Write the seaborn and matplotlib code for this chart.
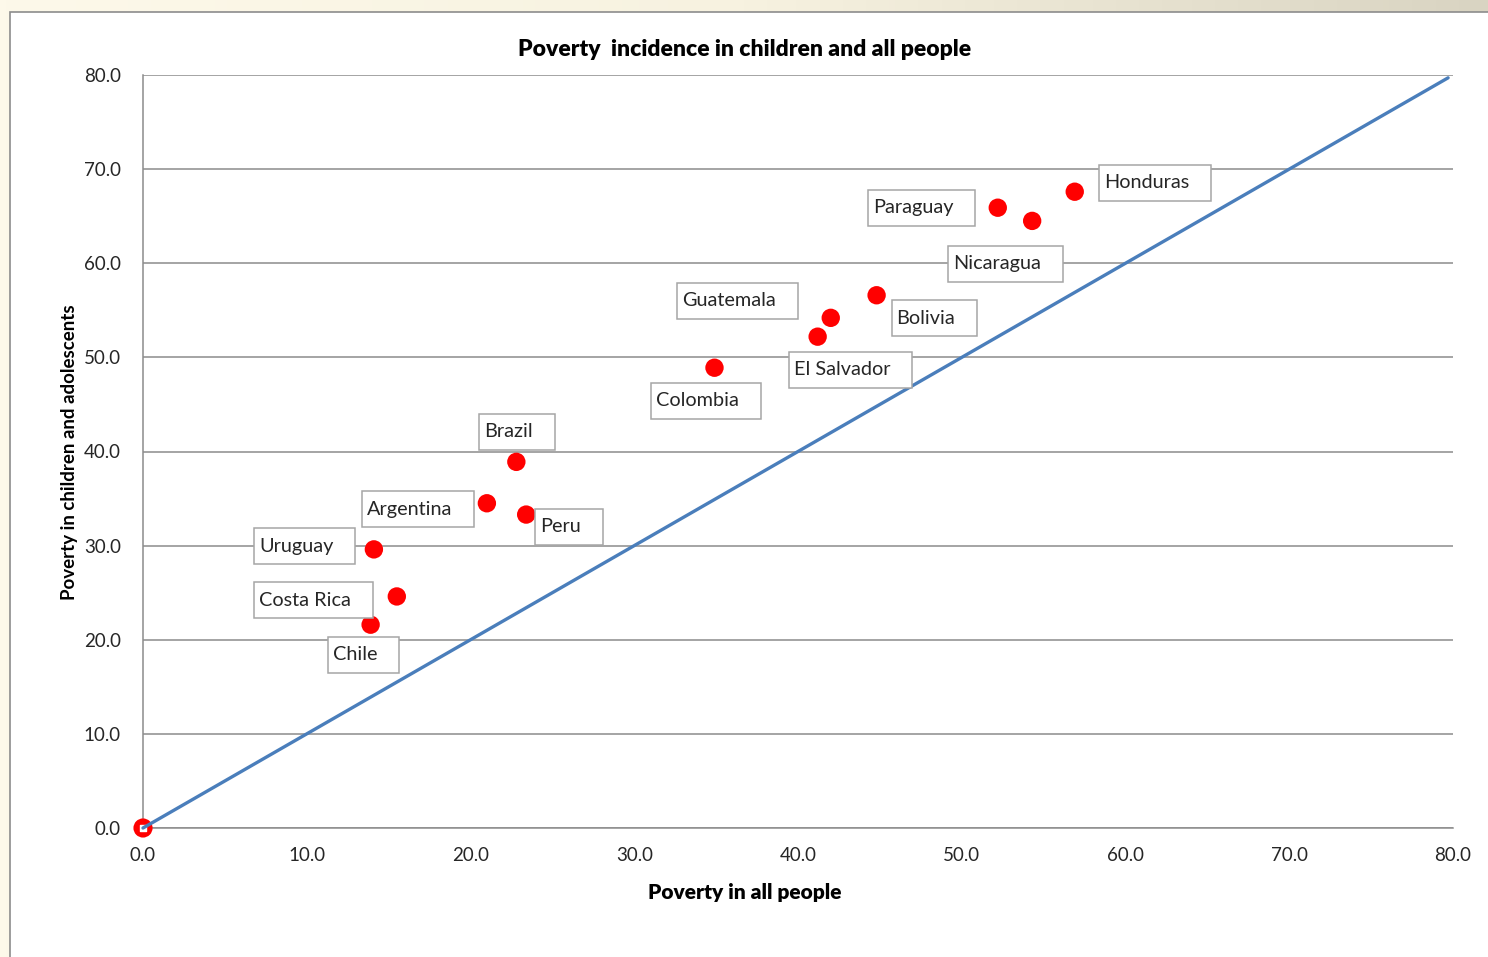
import numpy as np
import pandas as pd
import matplotlib
matplotlib.use("Agg")
import matplotlib.pyplot as plt
from matplotlib.patches import Rectangle
from matplotlib.transforms import IdentityTransform
import seaborn as sns

# Poverty incidence (%) by country
countries = ["Honduras", "Paraguay", "Nicaragua", "Bolivia", "Guatemala",
             "El Salvador", "Colombia", "Brazil", "Argentina", "Peru",
             "Uruguay", "Costa Rica", "Chile"]
poverty_all = [56.9, 52.2, 54.3, 44.8, 42.0, 41.2, 34.9, 22.8, 21.0, 23.4,
               14.1, 15.5, 13.9]
poverty_children = [67.6, 65.9, 64.5, 56.6, 54.2, 52.2, 48.9, 38.9, 34.5,
                    33.3, 29.6, 24.6, 21.6]
origin_x = [0.0]
origin_y = [0.0]
equality_x = [0.0, 79.7]
equality_y = [0.0, 79.7]
ticks = [0, 10, 20, 30, 40, 50, 60, 70, 80]

df = pd.DataFrame({"country": countries, "all": poverty_all,
                   "children": poverty_children})

# label placement: offset of the label text (pixels) from its point
label_offsets = {
    "Honduras": (29, 9), "Paraguay": (-125, 0), "Nicaragua": (-79, -43),
    "Bolivia": (20, -23), "Guatemala": (-149, 17), "El Salvador": (-24, -33),
    "Colombia": (-58, -33), "Brazil": (-32, 30), "Argentina": (-120, -6),
    "Peru": (14, -12), "Uruguay": (-115, 3), "Costa Rica": (-138, -4),
    "Chile": (-38, -30),
}

sns.set_theme(style="white")
plt.rcParams["font.family"] = ["Lato", "DejaVu Sans"]

W, H = 1488, 957
fig = plt.figure(figsize=(W / 100, H / 100), dpi=100)

# slide-like background with a light gradient
bg = fig.add_axes([0, 0, 1, 1], zorder=-10)
grad = np.linspace(0, 1, 256)[None, :]
bg.imshow(grad, aspect="auto", extent=[0, 1, 0, 1],
          cmap=matplotlib.colors.LinearSegmentedColormap.from_list(
              "bgc", ["#FDF9EA", "#F7F2E0", "#D9D4C2"]))
bg.set_xlim(0, 1)
bg.set_ylim(0, 1)
bg.axis("off")
# chart area
bg.add_patch(Rectangle((10 / W, -0.01), 1.0, 1 - 12 / H + 0.01,
                       facecolor="white", edgecolor="#8C8C8C", lw=1.2,
                       transform=bg.transAxes))

def fx(px):
    return px / W

def fy(py):
    return 1 - py / H

ax = fig.add_axes([fx(143), fy(828), fx(1453) - fx(143), fy(75) - fy(828)])
ax.set_facecolor("none")

sns.lineplot(x=equality_x, y=equality_y, ax=ax, color="#4A7EBB", lw=2.4,
             zorder=5, clip_on=False)
sns.scatterplot(data=df, x="all", y="children", ax=ax, color="#FF0000",
                s=175, edgecolor="none", zorder=4, clip_on=False)
sns.scatterplot(x=origin_x, y=origin_y, ax=ax, color="#FF0000", s=190,
                edgecolor="none", zorder=4, clip_on=False)
ax.scatter(origin_x, origin_y, marker="s", s=16, color="white", zorder=4.5,
           clip_on=False)

ax.set_xlim(0, 80)
ax.set_ylim(0, 80)
ax.set_xticks(ticks)
ax.set_yticks(ticks)
ax.set_xticklabels([f"{t:.1f}" for t in ticks])
ax.set_yticklabels([f"{t:.1f}" for t in ticks])
ax.tick_params(axis="both", labelsize=13.5, colors="#404040", labelcolor="#262626")
ax.tick_params(axis="y", length=5, width=1, color="#8C8C8C", pad=11)
ax.tick_params(axis="x", length=0, pad=14)
ax.yaxis.grid(True, color="#8C8C8C", lw=1.1)
ax.xaxis.grid(False)
for side in ["top", "right"]:
    ax.spines[side].set_visible(False)
for side in ["left", "bottom"]:
    ax.spines[side].set_color("#8C8C8C")
    ax.spines[side].set_linewidth(1.1)
ax.set_xlabel("")
ax.set_ylabel("")

fig.text(fx(745), fy(49), "Poverty  incidence in children and all people",
         ha="center", va="center", fontsize=16.5, fontweight="heavy",
         color="#000000")
fig.text(fx(745), fy(893), "Poverty in all people", ha="center",
         va="center", fontsize=15, fontweight="heavy", color="#000000")
fig.text(fx(70), fy(452), "Poverty in children and adolescents",
         ha="center", va="center", rotation=90, fontsize=13.5,
         fontweight="bold", color="#000000")

texts = []
for c, x, y in zip(countries, poverty_all, poverty_children):
    dx, dy = label_offsets[c]
    t = ax.annotate(c, (x, y), xytext=(dx, dy), textcoords="offset pixels",
                    ha="left", va="center", fontsize=14.3, color="#262626",
                    zorder=7, annotation_clip=False)
    texts.append(t)

fig.canvas.draw()
renderer = fig.canvas.get_renderer()
for t in texts:
    bb = t.get_window_extent(renderer)
    cy = (bb.y0 + bb.y1) / 2
    ax.add_patch(Rectangle((bb.x0 - 5, cy - 18), bb.width + 27, 36,
                           facecolor="white", edgecolor="#A6A6A6", lw=1.1,
                           transform=IdentityTransform(), zorder=6,
                           clip_on=False))

fig.savefig("out.png", dpi=100)
